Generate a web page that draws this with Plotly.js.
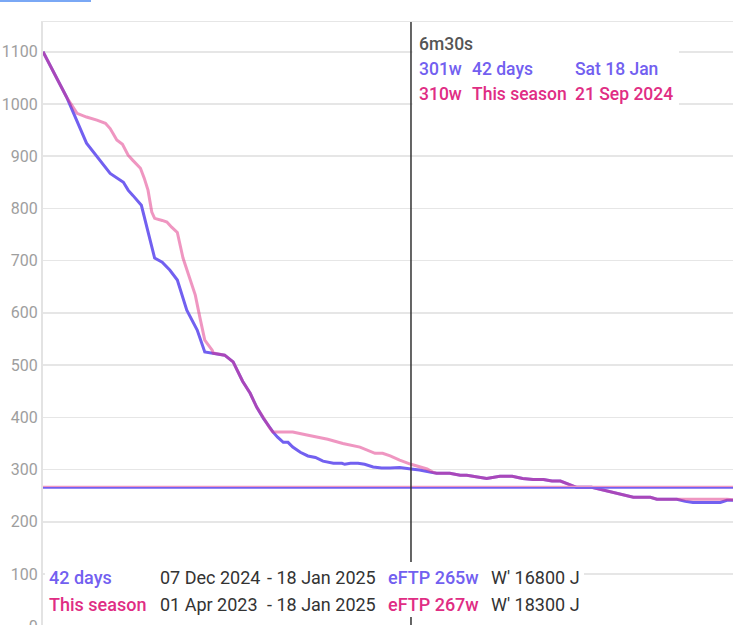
<!DOCTYPE html>
<html>
<head>
<meta charset="utf-8">
<script src="https://cdn.plot.ly/plotly-3.0.1.min.js"></script>
<style>
html,body{margin:0;padding:0;overflow:hidden;background:#fff;}
#chart{width:740px;height:660px;}
</style>
</head>
<body>
<div id="chart"></div>
<script>
// ---- data (durations in seconds, power in watts) ----
const daysDur = [1,26,47,61,72,86,91,96,100,105,119,127,135,143,153,164,172,181,193,202,212,220,227,234,241,244,249,255,260,265,273,281,289,297,308,317,320,326,334,341,350,359,368,378,390,399,410,417,431,442,449,463,470,484,497,508,519,530,539,548,556,565,581,595,606,614,625,643,650,667,671,680,688,717,724,738];
const daysPow = [1100,1013,925,892,867,850,835,825,816,806,705,697,682,663,605,567,525,523,519,506,469,446,419,398,379,372,362,352,352,343,333,326,323,316,312,312,310,312,312,310,305,303,303,304,301,299,295,293,293,289,289,285,283,287,287,283,281,281,278,278,272,266,266,260,255,251,247,247,243,243,243,239,237,237,241,241];

const seasonDur = [1,26,37,47,58,67,72,79,85,91,96,104,108,112,116,119,127,132,137,143,149,156,162,167,172,180,181,193,202,212,220,227,234,241,244,262,265,280,296,302,318,336,352,360,368,378,390,397,407,413,417,431,442,449,463,470,484,497,508,519,530,539,548,556,565,581,595,606,614,625,643,650,667,671,680,717,724,738];
const seasonPow = [1100,1013,982,975,969,963,953,931,923,902,892,877,858,835,793,781,777,774,764,754,705,666,634,590,548,528,523,519,506,469,446,419,398,379,372,373,372,366,360,358,350,343,331,331,326,318,310,306,301,295,293,293,289,289,285,283,287,287,283,281,281,278,278,272,266,266,260,255,251,247,247,243,243,243,243,243,243,241];

const eftpDays = 265, eftpSeason = 267;
const cursorDur = 390;
const seriesNames = ["42 days", "This season"];
const dateFrom = ["07 Dec 2024", "01 Apr 2023"];
const dateTo = ["- 18 Jan 2025", "- 18 Jan 2025"];
const eftpLabels = ["eFTP 265w", "eFTP 267w"];
const wPrime = ["W' 16800 J", "W' 18300 J"];
const hoverTitle = "6m30s";
const hoverWatts = ["301w", "310w"];
const hoverDates = ["Sat 18 Jan", "21 Sep 2024"];

// ---- styling ----
const BLUE = '#7260f0';
const PINK = '#e02d84';
const PINK_LINE = 'rgba(224,45,132,0.5)';
const PINK_LIGHT = '#ef96c2';
const DARK = '#333333';
const FONT = 'Roboto, "Noto Sans", sans-serif';

const W = 740, H = 660, L = 43, R = 0, T = 22, B = 20;
const PW = W - L - R, PH = H - T - B;
const px = v => (v - L) / PW;          // pixel x -> paper
const py = v => 1 - (v - T) / PH;      // pixel y -> paper

const traces = [
  {x: daysDur, y: daysPow, type: 'scatter', mode: 'lines',
   line: {color: BLUE, width: 3, shape: 'linear'}, hoverinfo: 'skip'},
  {x: seasonDur, y: seasonPow, type: 'scatter', mode: 'lines',
   line: {color: PINK_LINE, width: 3, shape: 'linear'}, hoverinfo: 'skip'}
];

const shapes = [
  // eFTP lines (season first so the 42-day line sits on top)
  {type: 'line', xref: 'paper', yref: 'y', x0: 0, x1: 1, y0: eftpSeason, y1: eftpSeason,
   line: {color: PINK_LIGHT, width: 2}, layer: 'above'},
  {type: 'line', xref: 'paper', yref: 'y', x0: 0, x1: 1, y0: eftpDays, y1: eftpDays,
   line: {color: BLUE, width: 1.8}, layer: 'above'},
  // hover box background
  {type: 'rect', xref: 'paper', yref: 'paper', x0: px(412.5), x1: px(679), y0: py(109), y1: py(30),
   fillcolor: '#ffffff', line: {width: 0}, layer: 'above'},
  // cursor line
  {type: 'line', xref: 'x', yref: 'paper', x0: cursorDur, x1: cursorDur, y0: 0, y1: 1,
   line: {color: DARK, width: 1.5}, layer: 'above'},
  // legend background
  {type: 'rect', xref: 'paper', yref: 'paper', x0: px(45), x1: px(584), y0: py(617), y1: py(562),
   fillcolor: '#ffffff', line: {width: 0}, layer: 'above'},
  // top-left tab indicator
  {type: 'rect', xref: 'paper', yref: 'paper', x0: px(0), x1: px(91), y0: py(2), y1: py(-1),
   fillcolor: '#7aa8f5', line: {width: 0}, layer: 'above'}
];

const ann = [];
function txt(t, x, y, color, size, weight) {
  ann.push({text: t, xref: 'paper', yref: 'paper', x: px(x), y: py(y),
    xanchor: 'left', yanchor: 'middle', showarrow: false, borderpad: 0,
    font: {family: FONT, size: size, color: color, weight: weight || 400}});
}
// hover box
const HS = 17.5, LS = 18;
txt(hoverTitle, 418, 44, '#555555', HS, 500);
txt(hoverWatts[0], 418, 69, BLUE, HS, 500);
txt(seriesNames[0], 471, 69, BLUE, HS, 500);
txt(hoverDates[0], 574, 69, BLUE, HS, 500);
txt(hoverWatts[1], 418, 94, PINK, HS, 500);
txt(seriesNames[1], 471, 94, PINK, HS, 500);
txt(hoverDates[1], 574, 94, PINK, HS, 500);
// bottom legend
const rowY = [577, 604];
const rowC = [BLUE, PINK];
for (let i = 0; i < 2; i++) {
  txt(seriesNames[i], 48, rowY[i], rowC[i], LS, 500);
  txt(dateFrom[i], 159, rowY[i], DARK, LS);
  txt(dateTo[i], 266, rowY[i], DARK, LS);
  txt(eftpLabels[i], 387, rowY[i], rowC[i], LS, 500);
  txt(wPrime[i], 490, rowY[i], DARK, LS);
}

const yTop = 1157, pxPerW = 0.5222;
const layout = {
  width: W, height: H,
  margin: {l: L, r: R, t: T, b: B, pad: 0},
  paper_bgcolor: '#ffffff', plot_bgcolor: '#ffffff',
  showlegend: false,
  font: {family: FONT},
  xaxis: {type: 'linear', range: [1, 1 + PW * 1.0571], showgrid: false, zeroline: false,
          showticklabels: false, ticks: '', showline: true, mirror: true,
          linecolor: '#e6e6e6', linewidth: 1.5, fixedrange: true},
  yaxis: {range: [yTop - PH / pxPerW, yTop], dtick: 100, tick0: 0, showgrid: true,
          gridcolor: '#e6e6e6', gridwidth: 1.5, zeroline: false, showline: true,
          linecolor: '#e3e3e3', linewidth: 2, ticks: '',
          tickfont: {family: FONT, size: 16, color: '#9e9e9e'}, fixedrange: true},
  shapes: shapes,
  annotations: ann
};

Plotly.newPlot('chart', traces, layout, {displayModeBar: false, staticPlot: true});
</script>
</body>
</html>
